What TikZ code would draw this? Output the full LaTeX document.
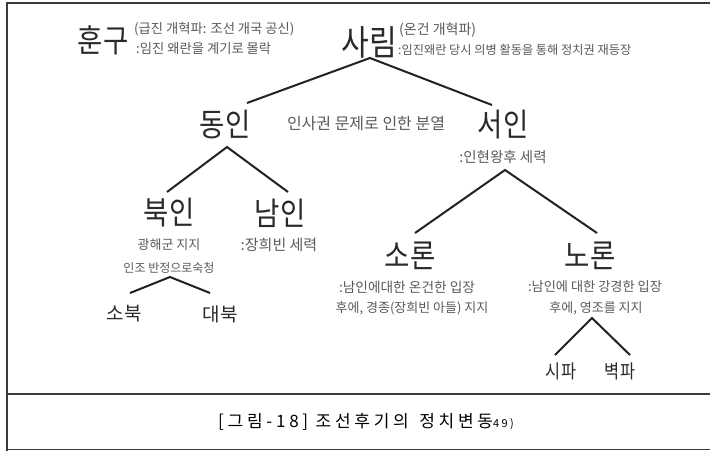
\documentclass[tikz,border=0pt]{standalone}
\usepackage{fontspec}
\newfontfamily\kr{Noto Sans CJK KR}
\newfontfamily\krcap[LetterSpace=22]{Noto Sans CJK KR}
\definecolor{bigc}{HTML}{2A2A2A}
\definecolor{smallc}{HTML}{5A5A5A}
\definecolor{linec}{HTML}{222222}
\definecolor{framec}{HTML}{3A3A3A}
\newcommand\sx[1]{\scalebox{0.86}[1]{#1}}
\newcommand\fs[1]{\fontsize{#1}{#1}\selectfont}
\tikzset{
  bigtxt/.style={font=\kr\fs{32}, text=bigc, inner sep=0pt},
  midtxt/.style={font=\kr\fs{19}, text=bigc, inner sep=0pt},
  smalltxt/.style={font=\kr\fs{13}, text=smallc, inner sep=0pt},
  link/.style={draw=linec, line width=2pt},
  frameline/.style={draw=framec, line width=2pt},
  thinframe/.style={draw=framec, line width=1.5pt},
}
\begin{document}
\begin{tikzpicture}[x=1pt,y=-1pt]
\useasboundingbox[fill=white] (0,0) rectangle (710,451);
% frame
\coordinate (ftl) at (6,2.5);
\coordinate (ftr) at (710,2.5);
\coordinate (flt) at (7,2);
\coordinate (flb) at (7,450.5);
\coordinate (fdl) at (7,394);
\coordinate (fdr) at (710,394);
\coordinate (fbl) at (7,449.5);
\coordinate (fbr) at (710,449.5);
\draw[frameline] (ftl) -- (ftr);
\draw[frameline] (flt) -- (flb);
\draw[thinframe] (fdl) -- (fdr);
\draw[thinframe] (fbl) -- (fbr);

% top
\node[bigtxt] (hungu) at (103,40) {\sx{훈구}};
\node[smalltxt, font=\kr\fs{13.3}, anchor=west] (hungu1) at (134,29) {(급진 개혁파: 조선 개국 공신)};
\node[smalltxt, font=\kr\fs{13.3}, anchor=west] (hungu2) at (136,49) {:임진 왜란을 계기로 몰락};
\node[bigtxt, font=\kr\fs{35}] (sarim) at (369,42) {\sx{사림}};
\node[smalltxt, font=\kr\fs{14}, anchor=west] (sarim1) at (399,30) {(온건 개혁파)};
\node[smalltxt, font=\kr\fs{12.2}, anchor=west] (sarim2) at (398,50) {:임진왜란 당시 의병 활동을 통해 정치권 재등장};

% second level
\node[bigtxt] (dongin) at (225,125) {\sx{동인}};
\node[smalltxt, font=\kr\fs{16}] (split) at (366,124) {인사권 문제로 인한 분열};
\node[bigtxt] (seoin) at (503,125) {\sx{서인}};
\node[smalltxt, font=\kr\fs{14.5}] (seoin1) at (503,157) {:인현왕후 세력};

% third level left
\node[bigtxt] (bugin) at (169,213) {\sx{북인}};
\node[bigtxt] (namin) at (280,213) {\sx{남인}};
\node[smalltxt] (bugin1) at (169,245) {광해군 지지};
\node[smalltxt, font=\kr\fs{12}] (bugin2) at (169,268) {인조 반정으로숙청};
\node[smalltxt, font=\kr\fs{15}] (namin1) at (279,245) {:장희빈 세력};
\node[midtxt] (sobuk) at (124,314) {소북};
\node[midtxt] (daebuk) at (220,314) {대북};

% third level right
\node[bigtxt] (soron) at (410,256) {\sx{소론}};
\node[bigtxt] (noron) at (590,256) {\sx{노론}};
\node[smalltxt, font=\kr\fs{13.7}] (soron1) at (407,287) {:남인에대한 온건한 입장};
\node[smalltxt] (soron2) at (412,308) {후에, 경종(장희빈 아들) 지지};
\node[smalltxt, font=\kr\fs{13.2}] (noron1) at (595,287) {:남인에 대한 강경한 입장};
\node[smalltxt] (noron2) at (596,308) {후에, 영조를 지지};
\node[midtxt] (sipa) at (561,371) {\sx{시파}};
\node[midtxt] (byeokpa) at (620,371) {\sx{벽파}};

% caption
\node[font=\krcap\fs{17}, text=black, inner sep=0pt] (caption) at (366,422) {[그림-18] 조선후기의\, 정치변동{\fs{11}49)}};

% connector points
\coordinate (aSarim) at (370,58);
\coordinate (eDongin) at (247,103);
\coordinate (eSeoin) at (492,105);
\coordinate (aDongin) at (227,147);
\coordinate (eBugin) at (167,192);
\coordinate (eNamin) at (288,192);
\coordinate (aSeoin) at (505,170);
\coordinate (eSoron) at (415,233);
\coordinate (eNoron) at (597,233);
\coordinate (aBugin) at (170,277);
\coordinate (eSobuk) at (130,293);
\coordinate (eDaebuk) at (210,293);
\coordinate (aNoron) at (592,318);
\coordinate (eSipa) at (555,355);
\coordinate (eByeokpa) at (630,355);

\draw[link] (eDongin) -- (aSarim) -- (eSeoin);
\draw[link] (eBugin) -- (aDongin) -- (eNamin);
\draw[link] (eSoron) -- (aSeoin) -- (eNoron);
\draw[link] (eSobuk) -- (aBugin) -- (eDaebuk);
\draw[link] (eSipa) -- (aNoron) -- (eByeokpa);
\end{tikzpicture}
\end{document}
